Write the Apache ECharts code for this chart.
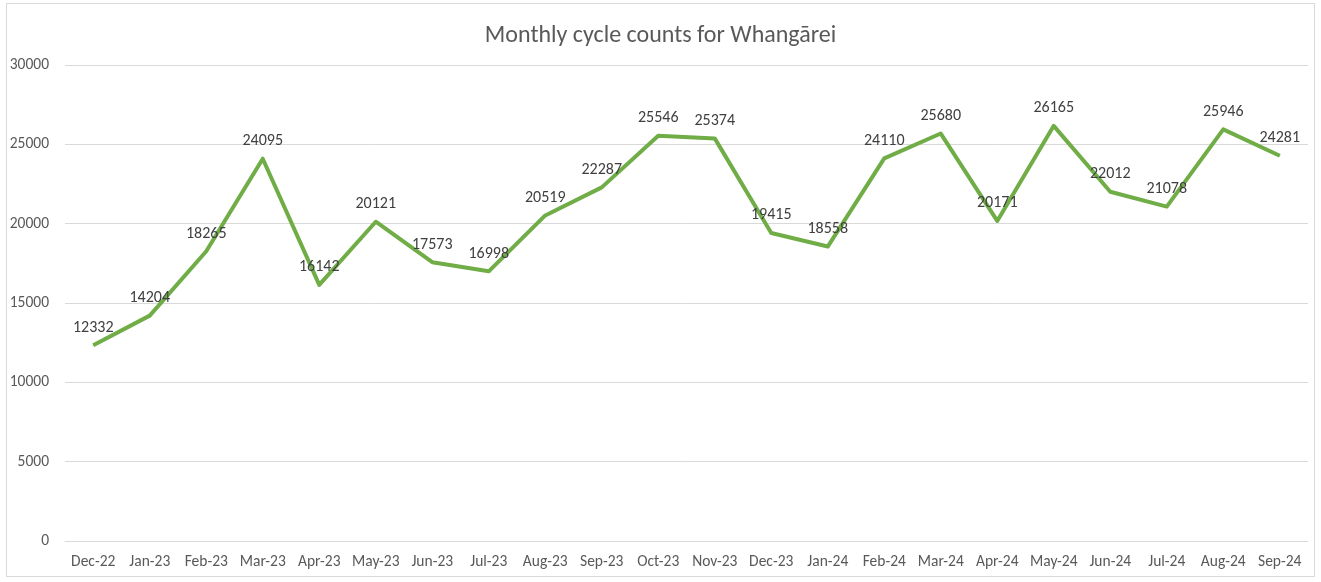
<!DOCTYPE html>
<html>
<head>
<meta charset="utf-8">
<script src="https://cdn.jsdelivr.net/npm/echarts@6/dist/echarts.min.js"></script>
<style>
  html, body { margin: 0; padding: 0; background: #fff; }
  #frame { position: absolute; left: 6px; top: 3px; width: 1309px; height: 574px; border: 1px solid #d9d9d9; box-sizing: border-box; }
  #chart { position: absolute; left: 0; top: 0; width: 1321px; height: 582px; }
</style>
</head>
<body>
<div id="frame"></div>
<div id="chart"></div>
<script>
const months = ['Dec-22', 'Jan-23', 'Feb-23', 'Mar-23', 'Apr-23', 'May-23', 'Jun-23', 'Jul-23',
  'Aug-23', 'Sep-23', 'Oct-23', 'Nov-23', 'Dec-23', 'Jan-24', 'Feb-24', 'Mar-24', 'Apr-24',
  'May-24', 'Jun-24', 'Jul-24', 'Aug-24', 'Sep-24'];
const counts = [12332, 14204, 18265, 24095, 16142, 20121, 17573, 16998, 20519, 22287, 25546,
  25374, 19415, 18558, 24110, 25680, 20171, 26165, 22012, 21078, 25946, 24281];

const fontFamily = 'Carlito, "Liberation Sans", "Open Sans", sans-serif';
const chart = echarts.init(document.getElementById('chart'));
chart.setOption({
  animation: false,
  textStyle: { fontFamily: fontFamily },
  title: {
    text: 'Monthly cycle counts for Whangārei',
    left: 'center',
    top: 19,
    textStyle: { fontSize: 24, fontWeight: 'normal', color: '#595959', fontFamily: fontFamily }
  },
  grid: { left: 65, right: 13, top: 65, bottom: 41, containLabel: false },
  xAxis: {
    type: 'category',
    data: months,
    boundaryGap: true,
    axisLine: { lineStyle: { color: '#d9d9d9' } },
    axisTick: { show: false },
    axisLabel: { color: '#595959', fontSize: 15.5, margin: 13, interval: 0 }
  },
  yAxis: {
    type: 'value',
    min: 0,
    max: 30000,
    interval: 5000,
    axisLine: { show: false },
    axisTick: { show: false },
    axisLabel: { color: '#595959', fontSize: 15.5, margin: 16, formatter: v => String(v) },
    splitLine: { lineStyle: { color: '#d9d9d9', width: 1 } }
  },
  series: [{
    type: 'line',
    data: counts,
    symbol: 'circle',
    symbolSize: 1,
    lineStyle: { color: '#70ad47', width: 4, join: 'round' },
    itemStyle: { color: '#70ad47' },
    label: {
      show: true,
      position: 'top',
      distance: 9,
      color: '#404040',
      fontSize: 16
    }
  }]
});
</script>
</body>
</html>
